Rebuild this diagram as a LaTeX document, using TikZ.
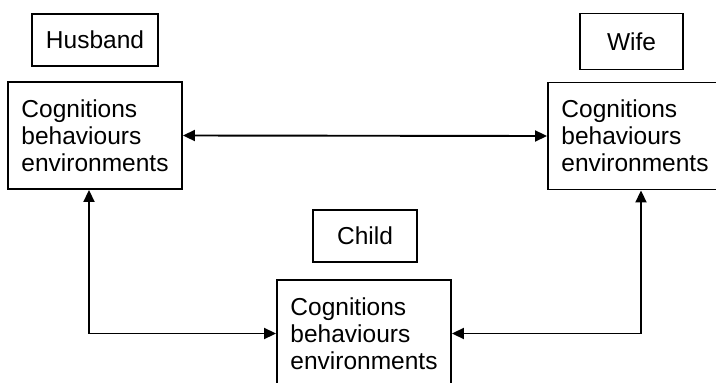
\documentclass[tikz,border=0pt]{standalone}
\usepackage{fontspec}
\setmainfont{Liberation Sans}
\usetikzlibrary{arrows.meta}
\begin{document}
\begin{tikzpicture}[x=1pt,y=-1pt,
  every node/.style={font=\fontsize{24.5}{27}\selectfont},
  label box/.style={draw,line width=1.9pt,inner sep=0pt,minimum height=52pt},
  info box/.style={draw,line width=1.9pt,inner sep=0pt,align=left,
    minimum width=174pt,minimum height=107pt},
  link/.style={line width=1.9pt,{Triangle[length=12pt,width=11pt]}-{Triangle[length=12pt,width=11pt]}}]
  \useasboundingbox (0,0) rectangle (716,383);
  \begin{scope}
    \clip (0,0) rectangle (716,383);
    % person labels
    \node[label box,minimum width=126pt] (husl) at (95,40) {Husband};
    \node[label box,minimum width=103pt,minimum height=56pt] (wifel) at (631.5,41.5) {Wife};
    \node[label box,minimum width=104pt] (childl) at (365,236) {Child};
    % cognitions / behaviours / environments boxes
    \node[info box] (hus) at (95,135.5) {Cognitions\\behaviours\\environments};
    \node[info box] (wife) at (635,136) {Cognitions\\behaviours\\environments};
    \node[info box] (child) at (364,333.5) {Cognitions\\behaviours\\environments};
    % connectors
    \draw[link] (hus.east) -- (wife.west);
    \draw[link] ([xshift=-6pt]hus.south) |- (child.west);
    \draw[link] ([xshift=6pt]wife.south) |- (child.east);
  \end{scope}
\end{tikzpicture}
\end{document}
